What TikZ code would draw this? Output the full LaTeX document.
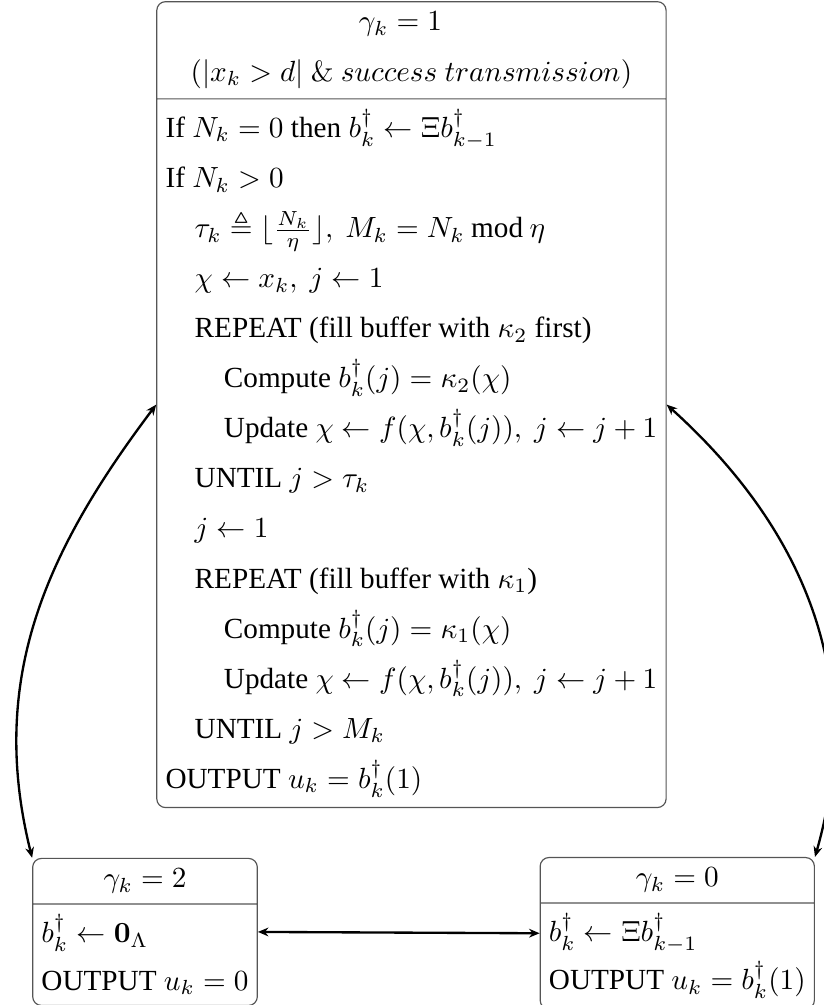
\documentclass[tikz,border=0pt]{standalone}
\usepackage{amsmath,amssymb}
\usepackage[no-math]{fontspec}
\setmainfont{Liberation Serif}
\usepackage{tikz}
\usetikzlibrary{arrows.meta,shapes.multipart}
\definecolor{boxgray}{RGB}{85,85,85}
\newlength\hdrwd
\newcommand{\hdrtext}{$(|x_k > d|\ \&\ success\ transmission)$}
\tikzset{
  statebox/.style={rectangle split, rectangle split parts=2,
    rectangle split part align={center,left}, draw=boxgray, line width=0.4pt,
    rounded corners=3pt, inner xsep=3pt, inner ysep=3.4pt, align=left,
    font=\fontsize{10pt}{17.14pt}\selectfont},
  smallbox/.style={statebox, font=\fontsize{10pt}{16.4pt}\selectfont},
  arr/.style={{Stealth[length=3.6pt,width=3pt]}-{Stealth[length=3.6pt,width=3pt]}, thick},
}

\begin{document}
\begin{tikzpicture}[x=1pt,y=1pt]
  \useasboundingbox (0,0) rectangle (281.85,344.18);
  \settowidth{\hdrwd}{\hdrtext}
  % gamma_k = 1
  \node[statebox, anchor=north] (st1) at (140.9,343.8) {%
    \makebox[\hdrwd][c]{$\gamma_k = 1$}\\
    \hdrtext
    \nodepart{two}
    If $N_k = 0$ then $b_k^\dagger \leftarrow \Xi b_{k-1}^\dagger$\\
    If $N_k > 0$\\
    \quad$\tau_k \triangleq \lfloor \frac{N_k}{\eta} \rfloor,\ M_k = N_k \mathbin{\textrm{mod}} \eta$\\
    \quad$\chi \leftarrow x_k,\ j \leftarrow 1$\\
    \quad REPEAT (fill buffer with $\kappa_2$ first)\\
    \qquad Compute $b_k^\dagger(j) = \kappa_2(\chi)$\\
    \qquad Update $\chi \leftarrow f(\chi, b_k^\dagger(j)),\ j \leftarrow j+1$\\
    \quad UNTIL $j > \tau_k$\\
    \quad$j \leftarrow 1$\\
    \quad REPEAT (fill buffer with $\kappa_1$)\\
    \qquad Compute $b_k^\dagger(j) = \kappa_1(\chi)$\\
    \qquad Update $\chi \leftarrow f(\chi, b_k^\dagger(j)),\ j \leftarrow j+1$\\
    \quad UNTIL $j > M_k$\\
    OUTPUT $u_k = b_k^\dagger(1)$};
  % gamma_k = 2
  \node[smallbox, anchor=north west] (st2) at (11,50.4) {%
    $\gamma_k = 2$
    \nodepart{two}
    $b_k^\dagger \leftarrow \mathbf{0}_\Lambda$\\
    OUTPUT $u_k = 0$};
  % gamma_k = 0
  \node[smallbox, anchor=north east] (st0) at (279.1,50.7) {%
    $\gamma_k = 0$
    \nodepart{two}
    $b_k^\dagger \leftarrow \Xi b_{k-1}^\dagger$\\
    OUTPUT $u_k = b_k^\dagger(1)$};

  \draw[arr] (st1.west) to[out=233,in=104] (st2.north west);
  \draw[arr] (st1.east) to[out=318,in=74] (st0.north east);
  \draw[arr] (st2.east) -- (st0.west);
\end{tikzpicture}
\end{document}
